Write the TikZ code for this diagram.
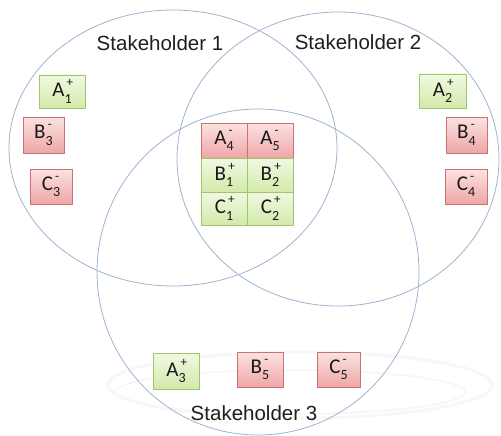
\documentclass[tikz,border=0pt]{standalone}
\usepackage{fontspec}
\setmainfont{Liberation Sans}
\newfontfamily\boxfont{Carlito}
\newcommand{\lbl}[3]{#1\makebox[0pt][l]{\raisebox{0.48em}{\fontsize{13}{13}\selectfont\,#3}}\raisebox{-0.3em}{\fontsize{14}{14}\selectfont #2}\hspace{0.3em}}
\definecolor{ringc}{HTML}{9DB3CF}
\definecolor{gtop}{HTML}{F1F9E2}
\definecolor{gbot}{HTML}{D2EAAA}
\definecolor{gbrd}{HTML}{A3C46E}
\definecolor{rtop}{HTML}{FBE2E2}
\definecolor{rbot}{HTML}{EFA6A6}
\definecolor{rbrd}{HTML}{C97272}
\begin{document}
\begin{tikzpicture}[x=1pt,y=-1pt,
  ring/.style={draw=ringc,line width=0.8pt},
  cell/.style={inner sep=0pt,minimum width=44pt,minimum height=35pt,
    font=\boxfont\fontsize{21}{21}\selectfont,text=black!90},
  gbox/.style={cell,draw=gbrd,line width=0.7pt,top color=gtop,bottom color=gbot},
  rbox/.style={cell,draw=rbrd,line width=0.7pt,top color=rtop,bottom color=rbot},
  gcell/.style={gbox,minimum width=46pt,minimum height=34pt},
  rcell/.style={rbox,minimum width=46pt,minimum height=34pt},
  title/.style={font=\fontsize{20.5}{20.5}\selectfont,text=black!88}]
\useasboundingbox (0,0) rectangle (501,436);
% faint background swirl
\draw[black!3,line width=3pt] (300,385) ellipse [x radius=192,y radius=33];
\draw[black!3,line width=2pt] (290,392) ellipse [x radius=175,y radius=22];
% rings
\draw[ring] (173,148) ellipse [x radius=164,y radius=138];
\draw[ring] (338,159) ellipse [x radius=161,y radius=147];
\draw[ring] (258,272) ellipse [x radius=161,y radius=163];
% titles
\node[title] (s1) at (160,43) {Stakeholder 1};
\node[title] (s2) at (358,42) {Stakeholder 2};
\node[title] (s3) at (254,413) {Stakeholder 3};
% stakeholder 1 only
\node[gbox,minimum width=46pt,minimum height=33pt] (a1) at (62,91.5) {\lbl{A}{1}{+}};
\node[rbox,minimum width=41pt,minimum height=36pt] (b3) at (43.5,135) {\lbl{B}{3}{-}};
\node[rbox,minimum width=42pt,minimum height=35pt] (c3) at (51,186.5) {\lbl{C}{3}{-}};
% stakeholder 2 only
\node[gbox,minimum width=47pt,minimum height=34pt] (a2) at (442.5,91) {\lbl{A}{2}{+}};
\node[rbox,minimum width=41pt,minimum height=36pt] (b4) at (466.5,135) {\lbl{B}{4}{-}};
\node[rbox,minimum width=42pt,minimum height=35pt] (c4) at (466,186.5) {\lbl{C}{4}{-}};
% centre grid
\node[rcell,minimum height=35pt] (a4) at (224,140.5) {\lbl{A}{4}{-}};
\node[rcell,minimum height=35pt] (a5) at (270,140.5) {\lbl{A}{5}{-}};
\node[gcell] (b1) at (224,175) {\lbl{B}{1}{+}};
\node[gcell] (b2) at (270,175) {\lbl{B}{2}{+}};
\node[gcell,minimum height=33pt] (c1) at (224,208.5) {\lbl{C}{1}{+}};
\node[gcell,minimum height=33pt] (c2) at (270,208.5) {\lbl{C}{2}{+}};
% stakeholder 3 only
\node[gbox,minimum width=46pt,minimum height=36pt] (a3) at (176,371) {\lbl{A}{3}{+}};
\node[rbox,minimum width=46pt,minimum height=35pt] (b5) at (260,369.5) {\lbl{B}{5}{-}};
\node[rbox,minimum width=43pt,minimum height=35pt] (c5) at (338.5,369.5) {\lbl{C}{5}{-}};
\end{tikzpicture}
\end{document}
